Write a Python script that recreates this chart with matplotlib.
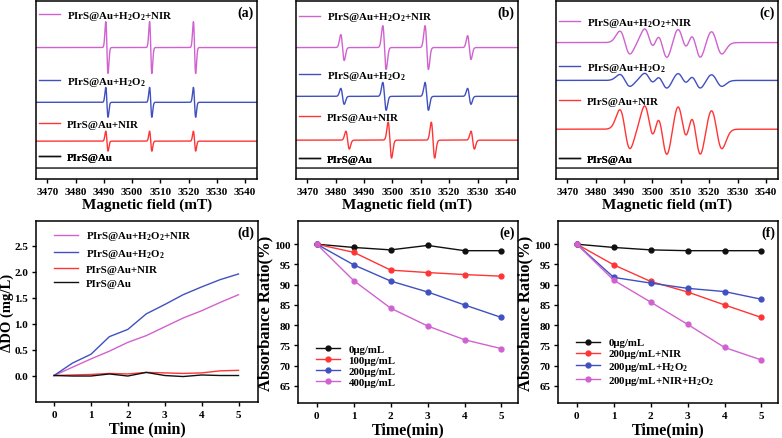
import matplotlib
matplotlib.use('Agg')
from matplotlib import pyplot as plt
import numpy as np

plt.rcParams['font.family'] = ['Liberation Serif', 'DejaVu Serif']
plt.rcParams['font.weight'] = 'bold'
plt.rcParams['mathtext.fontset'] = 'custom'
plt.rcParams['mathtext.rm'] = 'Liberation Serif:bold'
plt.rcParams['mathtext.default'] = 'rm'

# colours
MAG = '#d062d0'
BLU = '#4050c0'
RED = '#ff3535'
BLK = '#101010'

# ---- ESR data: baselines, line centres (mT), widths, amplitudes ----
esr_labels = ['PIrS@Au+H$_2$O$_2$+NIR', 'PIrS@Au+H$_2$O$_2$', 'PIrS@Au+NIR', 'PIrS@Au']
esr_colors = [MAG, BLU, RED, BLK]

# (a) triplet
a_base = [132, 77, 38, 11]
a_centers = [[3491.1, 3506.6, 3522.1]] * 3 + [[]]
a_width = 0.4
a_amps = [[26, 26, 26], [15, 15, 15], [10, 10, 10], []]

# (b) quartet 1:2:2:1
b_base = [132, 83, 39, 11]
b_centers = [[3482.4, 3497.2, 3512.1, 3527.1],
             [3482.4, 3497.2, 3512.1, 3527.1],
             [3484.2, 3499.1, 3514.3, 3528.3], []]
b_width = 0.6
b_amps = [[13, 22, 22, 12], [8, 14, 14, 8], [9, 18, 18, 9], []]

# (c) broad six-line spectrum
c_base = [137, 99, 50, 11]
c_cent = [3490.3, 3499.0, 3503.4, 3510.7, 3515.2, 3522.6]
c_widths = [1.8, 1.8, 1.8, 1.8, 1.8, 1.9]
c_rel = [0.85, 1.0, 1.12, 1.0, 1.12, 0.85]
c_amp = [13.5, 7, 23, 0]

field = np.linspace(3466, 3544, 4000)


def deriv_line(x, c, w, a):
    u = (x - c) / w
    return -a * u * np.exp(0.5 - 0.5 * u ** 2)


def spectrum(base, centers, widths, amps):
    y = np.full_like(field, base, dtype=float)
    for c, w, a in zip(centers, widths, amps):
        y += deriv_line(field, c, w, a)
    return y


# ---- (d) dissolved oxygen ----
t_d = [0, 0.5, 1, 1.5, 2, 2.5, 3, 3.5, 4, 4.5, 5]
do_h2o2_nir = [0, 0.16, 0.32, 0.47, 0.64, 0.77, 0.94, 1.11, 1.25, 1.41, 1.56]
do_h2o2 = [0, 0.24, 0.41, 0.75, 0.89, 1.19, 1.37, 1.56, 1.71, 1.85, 1.96]
do_nir = [0, 0.01, 0.02, 0.04, 0.03, 0.06, 0.05, 0.04, 0.05, 0.09, 0.10]
do_ctrl = [0, -0.01, -0.01, 0.03, -0.01, 0.06, 0.00, -0.02, 0.01, 0.00, 0.00]

# ---- (e) absorbance vs concentration ----
t_e = [0, 1, 2, 3, 4, 5]
e_labels = ['0μg/mL', '100μg/mL', '200μg/mL', '400μg/mL']
e_0 = [100, 99.2, 98.6, 99.7, 98.4, 98.4]
e_100 = [100, 98.0, 93.6, 93.0, 92.5, 92.1]
e_200 = [100, 94.9, 90.9, 88.2, 85.0, 81.9]
e_400 = [100, 91.0, 84.2, 79.8, 76.4, 74.2]

# ---- (f) absorbance vs treatment ----
f_labels = ['0μg/mL', '200μg/mL+NIR', '200μg/mL+H$_2$O$_2$', '200μg/mL+NIR+H$_2$O$_2$']
f_0 = [100, 99.2, 98.6, 98.4, 98.4, 98.4]
f_nir = [100, 94.9, 90.8, 88.2, 85.0, 81.9]
f_h2o2 = [100, 91.8, 90.4, 89.1, 88.3, 86.4]
f_both = [100, 91.1, 85.7, 80.2, 74.5, 71.4]

fig = plt.figure(figsize=(7.82, 4.39), dpi=100)


def style(ax, tick_size):
    for s in ax.spines.values():
        s.set_linewidth(1.1)
    ax.tick_params(direction='out', width=1.0, length=3, labelsize=tick_size, pad=2.5)
    for lab in ax.get_xticklabels() + ax.get_yticklabels():
        lab.set_fontweight('bold')


def tag(ax, txt):
    ax.text(0.985, 0.975, txt, transform=ax.transAxes, ha='right', va='top',
            fontsize=10, fontweight='bold')


def single_legend(ax, line, label, x, y):
    leg = ax.legend([line], [label], loc='center left', bbox_to_anchor=(x, y),
                    frameon=False, fontsize=7.8, borderpad=0, borderaxespad=0,
                    handlelength=2.0, handletextpad=0.6)
    ax.add_artist(leg)


# top row
top_pos = [(0.046, 0.283), (0.3785, 0.284), (0.711, 0.284)]
leg_y = [[0.916, 0.547, 0.307, 0.123],
         [0.91, 0.58, 0.346, 0.112],
         [0.877, 0.626, 0.436, 0.112]]
tags = ['(a)', '(b)', '(c)']
for k, (left, w) in enumerate(top_pos):
    ax = fig.add_axes([left, 0.590, w, 0.406])
    lines = []
    for i in range(4):
        if k == 0:
            y = spectrum(a_base[i], a_centers[i], [a_width] * len(a_centers[i]), a_amps[i])
        elif k == 1:
            y = spectrum(b_base[i], b_centers[i], [b_width] * len(b_centers[i]), b_amps[i])
        else:
            amps = [r * c_amp[i] for r in c_rel]
            y = spectrum(c_base[i], c_cent, c_widths, amps)
        ln, = ax.plot(field, y, color=esr_colors[i], lw=1.0)
        lines.append(ln)
    ax.set_xlim(3466, 3544.3)
    ax.set_ylim(0, 179)
    ax.set_yticks([])
    ax.set_xticks(range(3470, 3541, 10))
    style(ax, 8)
    ax.set_xlabel('Magnetic field (mT)', fontsize=11, fontweight='bold', labelpad=1)
    for i in range(4):
        single_legend(ax, lines[i], esr_labels[i], 0.012, leg_y[k][i])
    tag(ax, tags[k])

# (d)
ax = fig.add_axes([0.046, 0.081, 0.284, 0.413])
ax.plot(t_d, do_h2o2_nir, color=MAG, lw=1.0, label='PIrS@Au+H$_2$O$_2$+NIR')
ax.plot(t_d, do_h2o2, color=BLU, lw=1.0, label='PIrS@Au+H$_2$O$_2$')
ax.plot(t_d, do_nir, color=RED, lw=1.0, label='PIrS@Au+NIR')
ax.plot(t_d, do_ctrl, color=BLK, lw=1.0, label='PIrS@Au')
ax.set_xlim(-0.49, 5.53)
ax.set_ylim(-0.52, 2.98)
ax.set_xticks(range(6))
ax.set_yticks([0, 0.5, 1.0, 1.5, 2.0, 2.5])
style(ax, 8)
ax.set_xlabel('Time (min)', fontsize=11.5, fontweight='bold', labelpad=1)
ax.set_ylabel('ΔDO (mg/L)', fontsize=10.5, fontweight='bold')
ax.yaxis.set_label_coords(-0.097, 0.5)
ax.legend(loc='upper left', bbox_to_anchor=(0.08, 0.955), frameon=False, fontsize=7.8,
          borderpad=0, borderaxespad=0, labelspacing=0.42, handlelength=2.2)
tag(ax, '(d)')

# (e) and (f)
for left, series, labels, txt in [
        (0.3815, [e_0, e_100, e_200, e_400], e_labels, '(e)'),
        (0.714, [f_0, f_nir, f_h2o2, f_both], f_labels, '(f)')]:
    ax = fig.add_axes([left, 0.079, 0.2815, 0.415])
    for s, lab, col in zip(series, labels, [BLK, RED, BLU, MAG]):
        ax.plot(t_e, s, color=col, lw=1.0, marker='o', ms=3.5, label=lab)
    ax.set_xlim(-0.5, 5.46)
    ax.set_ylim(60.7, 105.7)
    ax.set_xticks(range(6))
    ax.set_yticks(range(65, 101, 5))
    style(ax, 8)
    ax.set_xlabel('Time(min)', fontsize=11.5, fontweight='bold', labelpad=1)
    ax.set_ylabel('Absorbance Ratio(%)', fontsize=12, fontweight='bold')
    ax.yaxis.set_label_coords(-0.112, 0.5)
    ax.legend(loc='lower left', bbox_to_anchor=(0.08, 0.09), frameon=False, fontsize=7.8,
              borderpad=0, borderaxespad=0, labelspacing=0.12, handlelength=2.2)
    tag(ax, txt)

fig.savefig('out.png', dpi=100)
